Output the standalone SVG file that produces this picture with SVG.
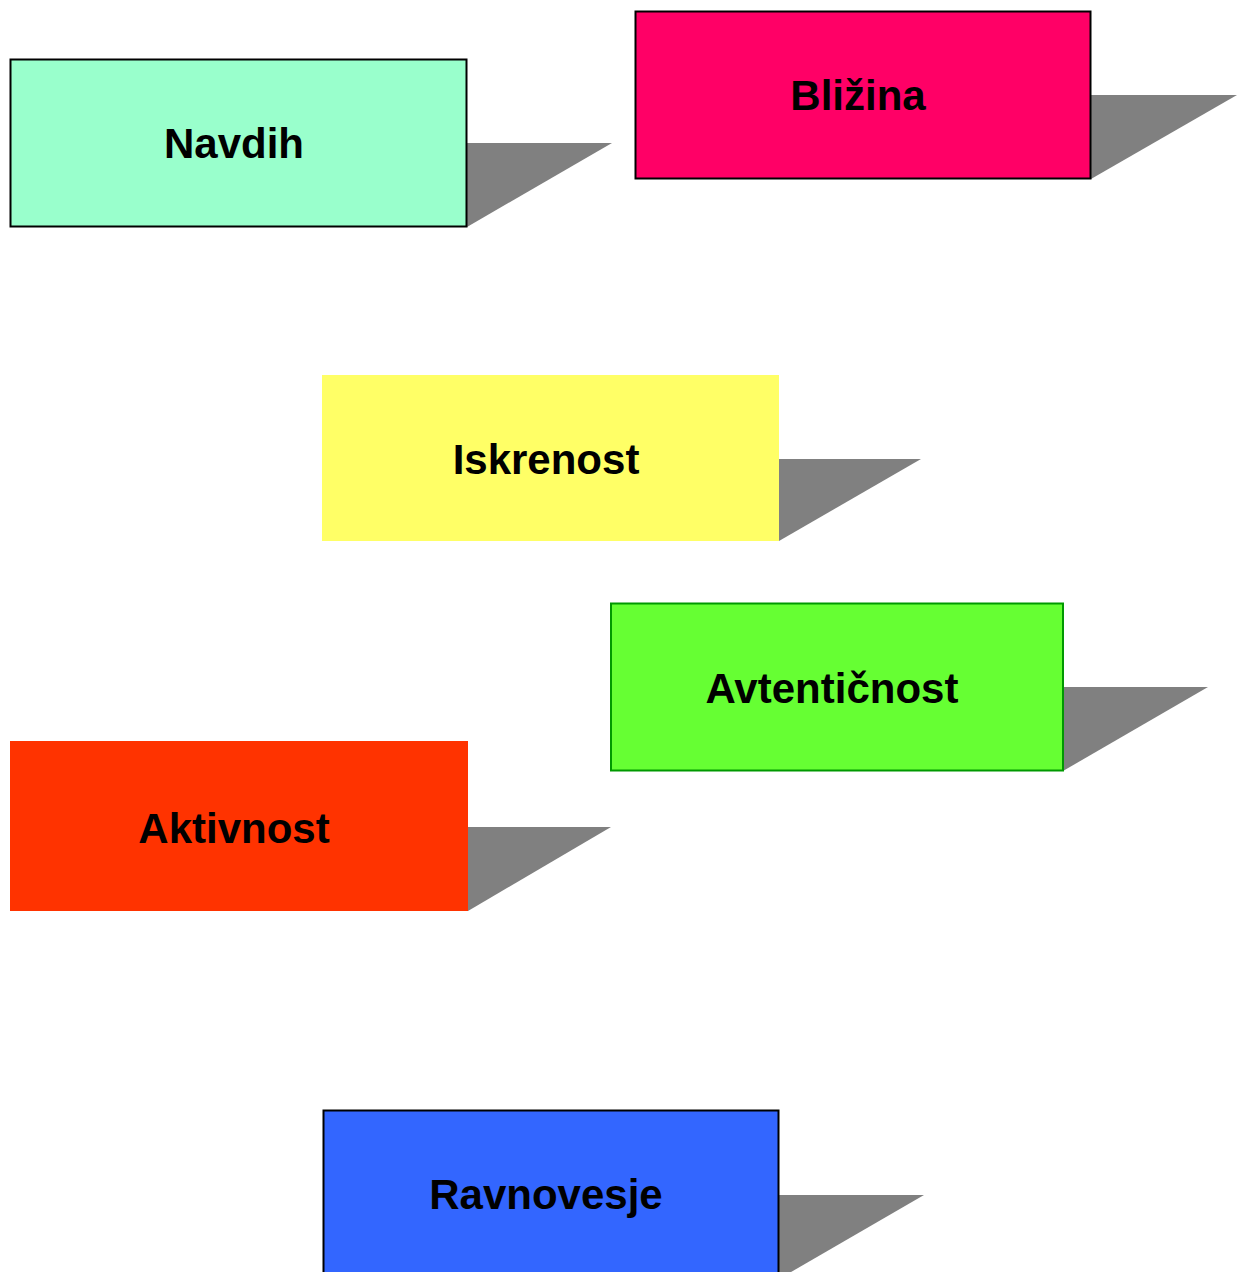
<svg xmlns="http://www.w3.org/2000/svg" width="1242" height="1272" viewBox="0 0 1242 1272">
<style>
.shadow{fill:#808080;stroke:none}
.lbl{font-family:"Liberation Sans",Arial,sans-serif;font-weight:bold;font-size:42px;fill:#000;text-anchor:middle}
.bk{stroke:#000;stroke-width:2}
</style>
<rect width="1242" height="1272" fill="#fff"/>
<g id="connectors"></g>
<g id="navdih">
<polygon class="shadow" points="467,143 612,143 467,227"/>
<rect x="10.5" y="59.5" width="456" height="167" fill="#99FFCC" class="bk"/>
<text class="lbl" x="234" y="158">Navdih</text>
</g>
<g id="blizina">
<polygon class="shadow" points="1091,95 1237,95 1091,179"/>
<rect x="635.5" y="11.5" width="455" height="167" fill="#FF0066" class="bk"/>
<text class="lbl" x="858" y="110">Bližina</text>
</g>
<g id="iskrenost">
<polygon class="shadow" points="779,459 921,459 779,541"/>
<rect x="322" y="375" width="457" height="166" fill="#FFFF66"/>
<text class="lbl" x="546" y="474">Iskrenost</text>
</g>
<g id="avtenticnost">
<polygon class="shadow" points="1063,687 1208,687 1063,771"/>
<rect x="611" y="603.5" width="452" height="167" fill="#66FF33" stroke="#009900" stroke-width="2"/>
<text class="lbl" x="832" y="703">Avtentičnost</text>
</g>
<g id="aktivnost">
<polygon class="shadow" points="468,827 611,827 468,911"/>
<rect x="10" y="741" width="458" height="170" fill="#FF3300"/>
<text class="lbl" x="234" y="843">Aktivnost</text>
</g>
<g id="ravnovesje">
<polygon class="shadow" points="779,1195 924,1195 779,1279"/>
<rect x="323.5" y="1110.5" width="455" height="170" fill="#3366FF" class="bk"/>
<text class="lbl" x="546" y="1209">Ravnovesje</text>
</g>
</svg>
